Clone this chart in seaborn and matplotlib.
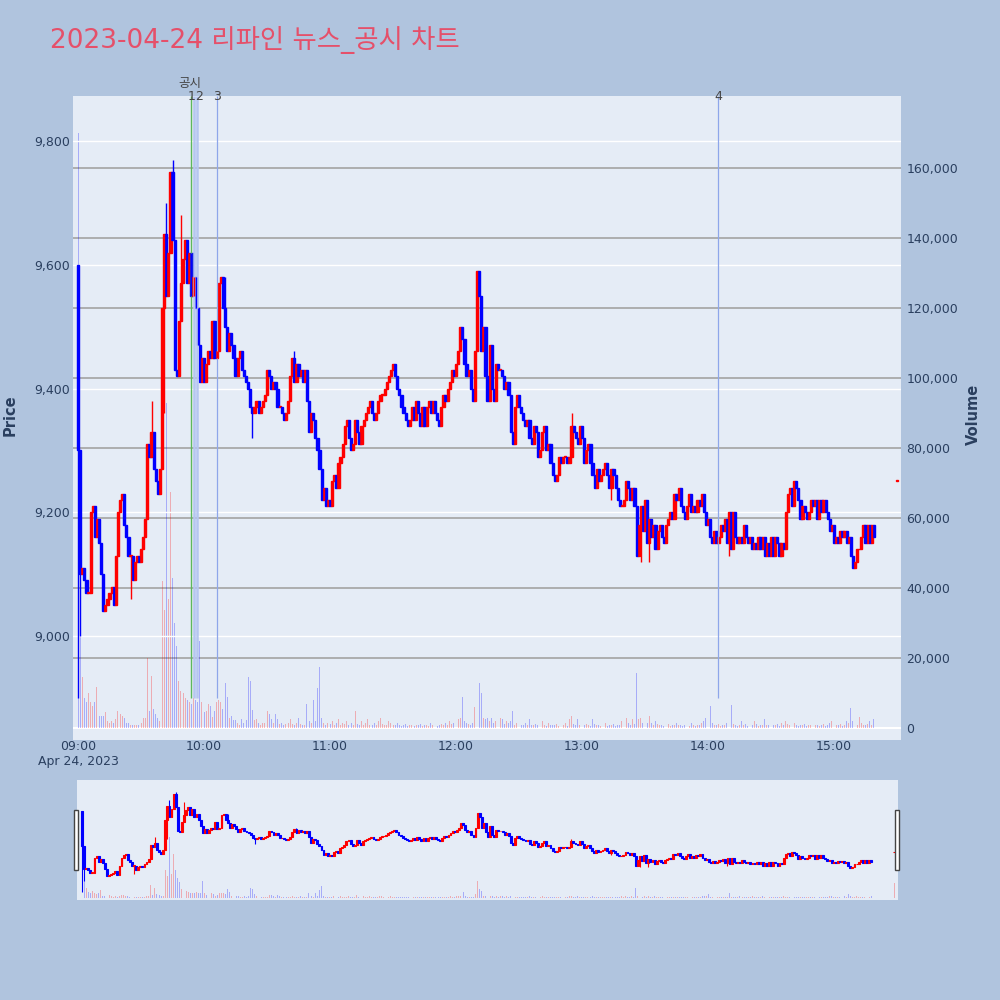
import numpy as np
import pandas as pd
import matplotlib
matplotlib.use("Agg")
import matplotlib.pyplot as plt
import seaborn as sns
from matplotlib.patches import Rectangle
from matplotlib.transforms import blended_transform_factory

# 1-minute closes (in units of 10 won), one list per trading hour from 09:00
close_h09 = [930, 910, 911, 909, 907, 907, 920, 921, 916, 919,
             915, 910, 904, 905, 906, 907, 908, 905, 913, 920,
             922, 923, 918, 916, 913, 913, 909, 912, 913, 912,
             914, 916, 919, 931, 929, 933, 927, 925, 923, 927,
             953, 965, 955, 962, 975, 964, 943, 942, 951, 957,
             961, 964, 957, 962, 955, 958, 953, 947, 941, 945]
close_h10 = [941, 944, 946, 945, 951, 945, 946, 957, 958, 953,
             950, 946, 949, 947, 945, 942, 945, 946, 943, 942,
             941, 940, 937, 936, 937, 938, 936, 937, 938, 939,
             943, 942, 940, 941, 940, 937, 937, 936, 935, 936,
             938, 942, 945, 941, 944, 942, 943, 941, 943, 938,
             933, 936, 935, 932, 930, 927, 922, 924, 921, 922]
close_h11 = [921, 925, 926, 924, 928, 929, 931, 934, 935, 932,
             930, 931, 935, 933, 931, 934, 935, 936, 937, 938,
             936, 935, 936, 938, 939, 939, 940, 941, 942, 943,
             944, 942, 940, 939, 937, 936, 935, 934, 935, 937,
             935, 938, 936, 934, 937, 934, 937, 938, 936, 938,
             936, 935, 934, 937, 939, 938, 940, 941, 943, 942]
close_h12 = [944, 946, 950, 948, 944, 942, 943, 940, 938, 946,
             959, 955, 946, 950, 942, 938, 947, 940, 938, 944,
             943, 943, 942, 940, 941, 939, 933, 931, 937, 939,
             937, 936, 935, 934, 935, 932, 931, 934, 933, 929,
             930, 933, 934, 930, 931, 928, 926, 925, 926, 929,
             928, 929, 929, 928, 929, 934, 933, 932, 931, 934]
close_h13 = [932, 928, 930, 931, 928, 926, 924, 927, 925, 926,
             927, 928, 926, 924, 927, 926, 924, 922, 921, 921,
             922, 925, 924, 922, 924, 921, 913, 918, 921, 917,
             922, 915, 919, 916, 918, 914, 917, 918, 916, 915,
             918, 919, 920, 919, 923, 922, 924, 921, 920, 919,
             921, 923, 920, 921, 920, 922, 921, 923, 920, 918]
close_h14 = [919, 916, 915, 917, 915, 916, 918, 917, 919, 915,
             920, 914, 920, 916, 915, 916, 915, 918, 916, 915,
             916, 914, 915, 914, 916, 914, 916, 913, 915, 913,
             916, 913, 916, 915, 913, 915, 914, 920, 923, 924,
             921, 925, 924, 922, 919, 921, 920, 919, 920, 922,
             921, 922, 919, 922, 920, 922, 920, 919, 917, 918]
close_h15 = [915, 916, 915, 917, 916, 917, 915, 916, 913, 911,
             912, 914, 914, 916, 918, 915, 918, 915, 918, 916]

# 1-minute volume (thousand shares)
vol_h09 = [170, 32, 14.6, 8.7, 7.5, 10, 7.5, 6.3, 7.5, 11.7,
           3.4, 3.4, 3.4, 4.5, 2, 1.5, 2, 1.6, 2.5, 5,
           4, 3.5, 2.8, 1.5, 1.5, 1, 0.8, 1, 0.8, 1,
           1.5, 2.8, 3, 20, 5, 15, 5.5, 4, 2.8, 2,
           42, 33.7, 93, 37, 67.6, 43, 30, 23.6, 13.6, 10.5,
           9.9, 8.7, 8, 7.5, 6.9, 8.7, 8, 7.5, 25, 7.5]
vol_h10 = [4.5, 5, 6.9, 6.3, 3.3, 5, 7.5, 8, 7.5, 5.6,
           13, 9, 3, 3.5, 2.2, 2.2, 1.5, 1, 2.7, 1.6,
           2.2, 14.6, 13.4, 5.2, 2.2, 2.7, 1.5, 1, 1.5, 1.6,
           5, 4, 2.5, 1.5, 3.9, 2.5, 1.2, 1.5, 0.8, 1.2,
           1.5, 2.5, 1.2, 0.8, 1.5, 3, 1.2, 0.8, 1, 7,
           2, 1.5, 8, 2, 11.4, 17.5, 3, 1.5, 1, 1.5]
vol_h11 = [1.2, 2, 1, 1.5, 2.5, 1, 1.5, 1.2, 2, 1,
           1.5, 1, 5, 1.2, 0.8, 2, 1, 1.5, 2.5, 1,
           0.8, 1.5, 1, 2, 3, 1.2, 0.8, 1, 2, 1.5,
           1, 0.8, 1.5, 1, 0.6, 0.8, 1.2, 0.6, 1, 0.8,
           0.6, 1, 0.8, 1.2, 0.6, 0.8, 1, 0.6, 1.5, 0.8,
           1, 0.6, 0.8, 1.2, 0.8, 1.5, 1, 2, 1.2, 1.5]
vol_h12 = [2, 2.5, 3, 8.9, 2, 1.5, 1.2, 1, 1.5, 6,
           25.7, 12.8, 10, 3, 2.5, 3, 2, 3, 1.5, 2,
           1.5, 3, 2.5, 1.2, 2, 1.5, 2, 5, 1, 1.5,
           1.2, 0.8, 1, 1.5, 0.8, 2.5, 1, 0.8, 1.2, 1,
           0.8, 2, 1, 0.6, 1.5, 0.8, 1, 0.8, 1.2, 0.6,
           1, 0.8, 1.5, 0.6, 2.5, 3.5, 1.2, 0.8, 2.5, 1]
vol_h13 = [1.5, 0.8, 1.2, 1, 0.6, 2.5, 1.2, 0.8, 1, 0.6,
           0.8, 1.5, 0.6, 1, 0.8, 1.2, 0.6, 1, 0.8, 2,
           1.2, 3, 1.5, 1, 2.5, 1.2, 15.7, 2.5, 3, 1.5,
           2, 1.5, 3.5, 1.5, 1, 2, 1.2, 0.8, 1, 0.6,
           0.8, 1.2, 0.6, 1, 0.8, 1.5, 0.8, 1, 0.6, 0.8,
           1, 0.6, 1.5, 0.8, 0.6, 1, 0.8, 1.5, 2, 3]
vol_h14 = [2, 6.3, 1.5, 1, 0.8, 1.2, 0.6, 1, 0.8, 1.5,
           1, 6.6, 1.2, 0.8, 0.6, 1, 2, 0.8, 1.2, 0.6,
           1, 0.8, 2, 1.2, 0.6, 1, 0.8, 2.5, 1, 0.8,
           1.5, 1, 0.8, 1.2, 0.6, 1.5, 1, 2, 1.2, 1,
           0.8, 1.5, 1, 0.6, 1, 0.8, 1.2, 0.6, 0.8, 1,
           0.6, 0.8, 1, 0.6, 0.8, 1.2, 0.6, 1, 1.5, 2]
vol_h15 = [2.5, 1, 0.8, 1.2, 0.6, 1, 2, 1.5, 5.7, 2,
           1.5, 1, 3.3, 1.5, 1, 0.8, 1.2, 2, 1, 2.5]

first_open = 9600
wick_high = {35: 9380, 42: 9700, 44: 9750, 45: 9770, 49: 9680, 70: 9580,
             103: 9460, 190: 9590, 191: 9570, 235: 9360}
wick_low = {0: 8900, 1: 9000, 25: 9060, 41: 9360, 83: 9320, 110: 9330,
            254: 9220, 268: 9120, 272: 9120, 310: 9130}

# closing auction at 15:30
auction_minute = 390
auction_price = 9250
auction_volume = 22000

# disclosure markers (minutes after 09:00)
event_minutes = [54.0, 55.0, 56.6, 66.2, 304.8]
event_labels = ["공시", "1", "2", "3", "4"]

closes = np.array(close_h09 + close_h10 + close_h11 + close_h12 + close_h13
                  + close_h14 + close_h15, float) * 10
volumes = np.array(vol_h09 + vol_h10 + vol_h11 + vol_h12 + vol_h13
                   + vol_h14 + vol_h15, float) * 1000
opens = np.r_[first_open, closes[:-1]]
highs = np.maximum(opens, closes)
lows = np.minimum(opens, closes)
for k, v in wick_high.items():
    highs[k] = max(highs[k], v)
for k, v in wick_low.items():
    lows[k] = min(lows[k], v)

df = pd.DataFrame({
    "minute": np.r_[np.arange(len(closes)), auction_minute],
    "open": np.r_[opens, auction_price],
    "high": np.r_[highs, auction_price],
    "low": np.r_[lows, auction_price],
    "close": np.r_[closes, auction_price],
    "volume": np.r_[volumes, auction_volume],
})
df["dir"] = np.where(df["close"] >= df["open"], "up", "down")

sns.set_style("white")
plt.rcParams["font.family"] = ["DejaVu Sans", "Noto Sans CJK KR"]

BG = "#B0C4DE"
PLOT_BG = "#E5ECF6"
TXT = "#2a3f5f"
XLIM = (-2.4, 391.9)
PRICE_LIM = (8832, 9873)
VOL_LIM = (-3400, 180600)


def draw_panel(ax_p, ax_v, lw, body_w):
    ax_p.set_zorder(ax_v.get_zorder() + 1)
    ax_p.patch.set_visible(False)
    ax_v.patch.set_visible(True)
    ax_v.set_facecolor(PLOT_BG)
    sns.histplot(data=df, x="minute", weights="volume", hue="dir",
                 palette={"up": "red", "down": "blue"}, discrete=True,
                 shrink=0.45, alpha=0.27, linewidth=0, legend=False, ax=ax_v)
    colors = np.where(df["dir"] == "up", "red", "blue")
    ax_p.vlines(df["minute"], df["low"], df["high"], colors=colors, linewidth=lw)
    bottoms = np.minimum(df["open"], df["close"])
    heights = np.maximum((df["close"] - df["open"]).abs(), 1.5)
    ax_p.bar(df["minute"], heights, bottom=bottoms, width=body_w,
             color=colors, edgecolor=colors, linewidth=lw)
    for a in (ax_p, ax_v):
        a.set_xlim(*XLIM)
        a.set_xlabel("")
        a.set_ylabel("")
        for s in a.spines.values():
            s.set_visible(False)
    ax_p.set_ylim(*PRICE_LIM)
    ax_v.set_ylim(*VOL_LIM)


fig = plt.figure(figsize=(10, 10), dpi=100, facecolor=BG)

# main chart
ax = fig.add_axes([0.073, 0.26, 0.828, 0.644])
ax2 = ax.twinx()
draw_panel(ax, ax2, lw=1.0, body_w=1.05)

for t in range(20000, 180000, 20000):
    ax2.axhline(t, color="#a3a3a3", lw=1.2, zorder=0)
ax2.axhline(0, color="white", lw=1.5, zorder=0)
for p in range(9000, 9801, 200):
    ax.axhline(p, color="white", lw=1.0, zorder=0)

ax.set_yticks(range(9000, 9801, 200))
ax.set_yticklabels([f"{p:,}" for p in range(9000, 9801, 200)])
ax2.set_yticks(range(0, 160001, 20000))
ax2.set_yticklabels([f"{v:,}" for v in range(0, 160001, 20000)])
xt = list(range(0, 361, 60))
ax.set_xticks(xt)
ax.set_xticklabels(["09:00\nApr 24, 2023"] + [f"{9 + i // 60:02d}:00" for i in xt[1:]])
ax.tick_params(axis="y", length=0, pad=2, labelsize=9, labelcolor=TXT)
ax2.tick_params(axis="y", length=0, pad=4, labelsize=9, labelcolor=TXT)
ax.tick_params(axis="x", length=0, pad=0, labelsize=9, labelcolor=TXT)
ax2.tick_params(axis="x", length=0, labelbottom=False)

# disclosure lines and labels
line_styles = [("#5cb85c", 1.0), ("#b5c6f0", 1.8), ("#b5c6f0", 1.8),
               ("#8ea6ea", 0.9), ("#8ea6ea", 0.9)]
trans = blended_transform_factory(ax.transData, ax.transAxes)
label_pos = {"공시": (-0.8, 1.020, "center"), "1": (0.8, 0.999, "right"),
             "2": (-0.8, 0.999, "left")}
for t, lab, (c, w) in zip(event_minutes, event_labels, line_styles):
    ax.vlines(t, 8900, PRICE_LIM[1], colors=c, linewidth=w, zorder=1)
    dx, y, ha = label_pos.get(lab, (0, 0.999, "center"))
    ax.text(t + dx, y, lab, transform=trans, ha=ha, va="center",
            fontsize=9, color="#444444", clip_on=False)

# range slider
axs = fig.add_axes([0.077, 0.10, 0.821, 0.12])
axs2 = axs.twinx()
draw_panel(axs, axs2, lw=0.8, body_w=0.9)
for a in (axs, axs2):
    a.set_xticks([])
    a.set_yticks([])
for x0 in (74, 895):
    fig.patches.append(Rectangle((x0 / 1000, 0.130), 0.004, 0.06, transform=fig.transFigure,
                                 facecolor="white", edgecolor="#444444", lw=1.0))

fig.text(0.05, 0.960, "2023-04-24 리파인 뉴스_공시 차트", fontsize=19,
         color="#E5506A", ha="left", va="center")
fig.text(0.010, 0.585, "Price", rotation=90, fontsize=10.5, fontweight="bold",
         color=TXT, ha="center", va="center")
fig.text(0.973, 0.586, "Volume", rotation=90, fontsize=10.5, fontweight="bold",
         color=TXT, ha="center", va="center")

fig.savefig("out.png", dpi=100, facecolor=BG)
